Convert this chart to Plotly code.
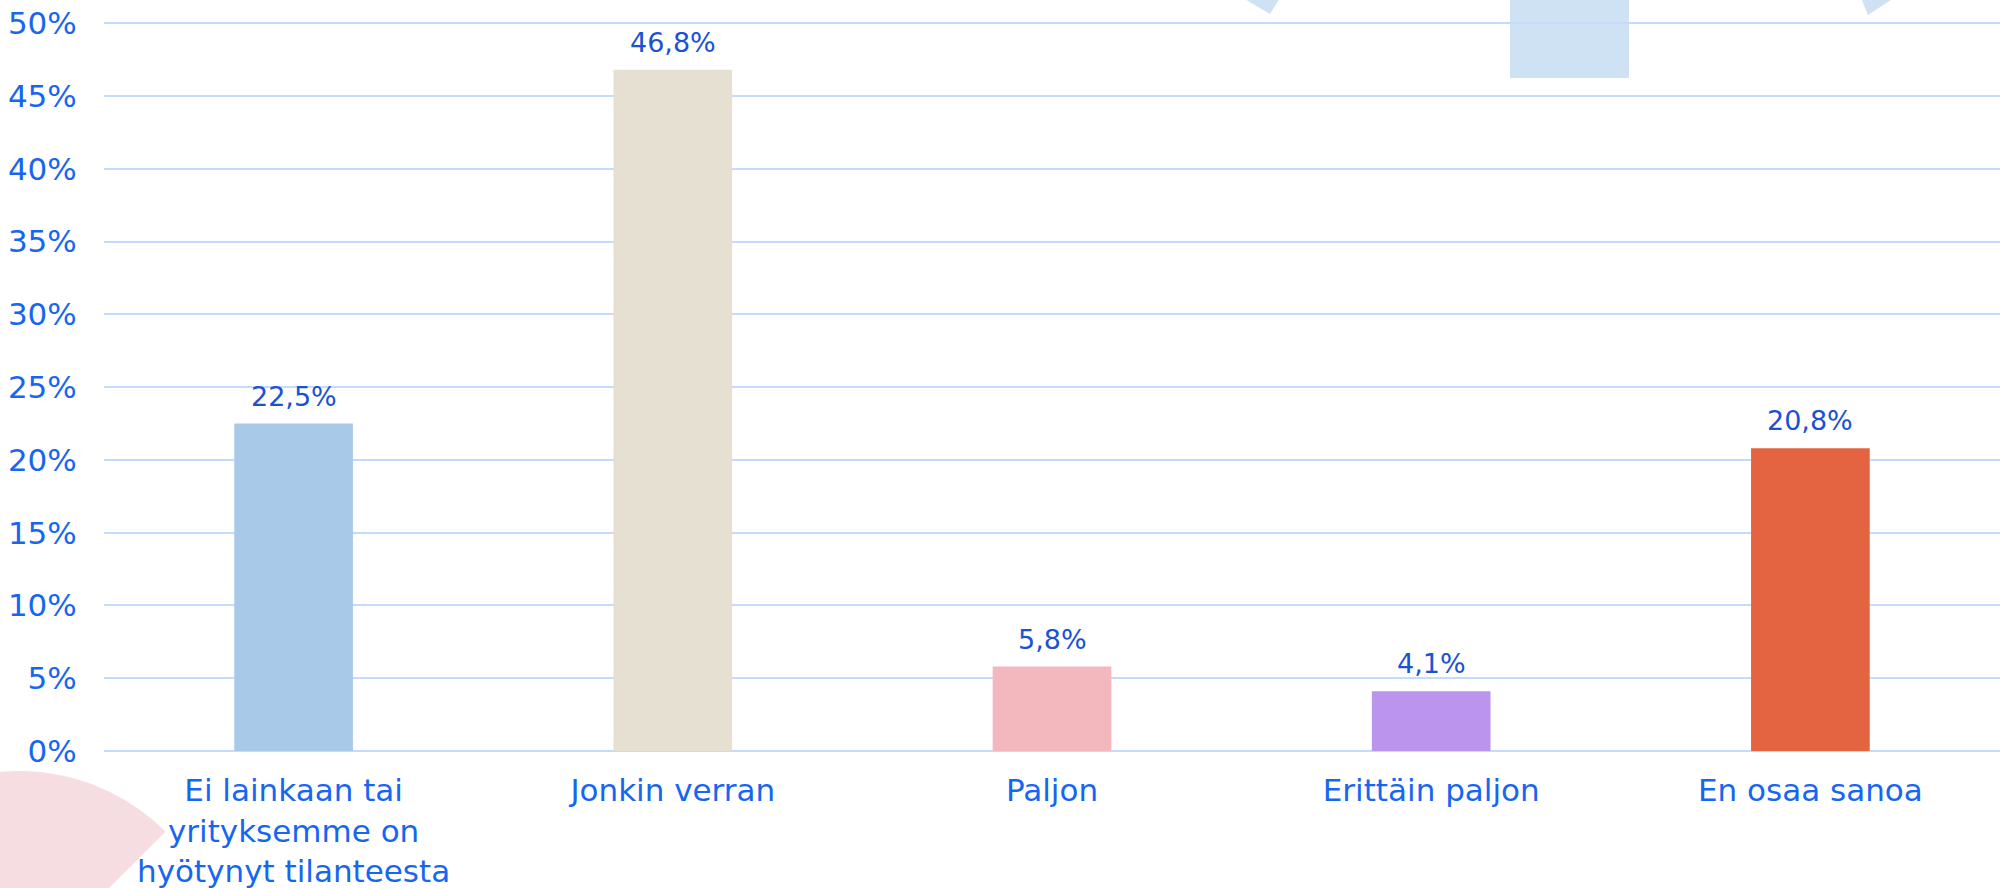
import math
import plotly.graph_objects as go

# data
categories = [
    "Ei lainkaan tai<br>yrityksemme on<br>hyötynyt tilanteesta",
    "Jonkin verran",
    "Paljon",
    "Erittäin paljon",
    "En osaa sanoa",
]
values = [22.5, 46.8, 5.8, 4.1, 20.8]
bar_colors = ["#a9c9e8", "#e6e0d3", "#f2b8be", "#bb94ee", "#e46442"]
y_ticks = [0, 5, 10, 15, 20, 25, 30, 35, 40, 45, 50]
y_tick_text = [f"{t}%" for t in y_ticks]

W, H = 2000, 888
L, R, T, B = 104, 0, 0, 137
plot_w = W - L - R
plot_h = H - T - B

tick_blue = "#1766ef"
label_blue = "#1a52d2"
grid_col = "#c5dbfb"
deco_blue = "#cfe2f3"
deco_pink = "#f6dde2"
font_family = "Century Gothic, DejaVu Sans, sans-serif"


def px_to_paper(px, py):
    return (px - L) / plot_w, (H - B - py) / plot_h


def path_from_pixels(points):
    parts = []
    for i, (px, py) in enumerate(points):
        xp, yp = px_to_paper(px, py)
        parts.append(("M" if i == 0 else "L") + f"{xp:.5f},{yp:.5f}")
    return " ".join(parts) + " Z"


fig = go.Figure()

fig.add_trace(go.Bar(
    x=categories,
    y=values,
    marker=dict(color=bar_colors, line=dict(width=0)),
    hoverinfo="skip",
))

# value labels above bars
for cat, v in zip(categories, values):
    fig.add_annotation(
        x=cat, y=v, xref="x", yref="y",
        text=f"{v:.1f}".replace(".", ",") + "%",
        showarrow=False, yanchor="bottom", yshift=10,
        font=dict(family=font_family, size=27, color=label_blue),
    )

# decorative background shapes (cropped pieces of a slide design)
shapes = []
rect = [(1510, 0), (1629, 0), (1629, 78), (1510, 78)]
wedge_l = [(1243, -2), (1280, -2), (1270, 14)]
wedge_r = [(1861, -2), (1894, -2), (1868, 15)]
for pts in (rect, wedge_l, wedge_r):
    shapes.append(dict(type="path", xref="paper", yref="paper", layer="below",
                       path=path_from_pixels(pts), fillcolor=deco_blue, line=dict(width=0)))

cx, cy, r = 19, 978, 207
sector = [(cx, cy)]
for k in range(0, 61):
    th = math.radians(45 + k * 1.75)
    sector.append((cx + r * math.cos(th), cy - r * math.sin(th)))
shapes.append(dict(type="path", xref="paper", yref="paper", layer="below",
                   path=path_from_pixels(sector), fillcolor=deco_pink, line=dict(width=0)))

fig.update_layout(
    width=W, height=H,
    margin=dict(l=L, r=R, t=T, b=B, pad=0),
    paper_bgcolor="rgba(0,0,0,0)",
    plot_bgcolor="rgba(0,0,0,0)",
    bargap=0.687,
    showlegend=False,
    shapes=shapes,
    font=dict(family=font_family, size=31, color=tick_blue),
)

fig.update_xaxes(
    showgrid=False, showline=False, zeroline=False,
    ticks="outside", ticklen=12, tickcolor="rgba(0,0,0,0)",
    tickfont=dict(family=font_family, size=31, color=tick_blue),
)
fig.update_yaxes(
    range=[0, 51.6], tickmode="array", tickvals=y_ticks, ticktext=y_tick_text,
    showgrid=True, gridcolor=grid_col, gridwidth=1.6,
    zeroline=True, zerolinecolor=grid_col, zerolinewidth=1.6,
    showline=False,
    ticks="outside", ticklen=20, tickcolor="rgba(0,0,0,0)",
    tickfont=dict(family=font_family, size=31, color=tick_blue),
)

fig.write_html("out.html", config={"displayModeBar": False},
               post_script="document.body.style.margin='0';")
